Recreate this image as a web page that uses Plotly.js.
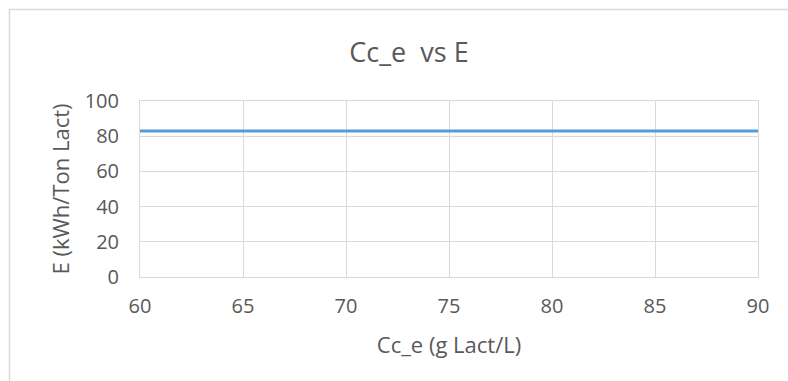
<!DOCTYPE html>
<html>
<head>
<meta charset="utf-8">
<script src="https://cdn.plot.ly/plotly-3.0.1.min.js"></script>
<style>
  html, body { margin: 0; padding: 0; background: #ffffff; }
  #chart { width: 788px; height: 381px; }
</style>
</head>
<body>
<div id="chart"></div>
<script>
// Concentration Cc_e (g Lact/L) against specific energy E (kWh/Ton Lact)
const ccE = [60, 65, 70, 75, 80, 85, 90];
const energy = [83, 83, 83, 83, 83, 83, 83];

const xTicks = [60, 65, 70, 75, 80, 85, 90];
const yTicks = [0, 20, 40, 60, 80, 100];

const W = 788, H = 381;
const margin = { l: 140, r: 30, t: 101, b: 104 };
const plotW = W - margin.l - margin.r;
const plotH = H - margin.t - margin.b;

// chart frame, given in pixels and converted to paper units
const frameLeft = 9.5, frameTop = 9.5;
const fx0 = (frameLeft - margin.l) / plotW;
const fx1 = (W + 5 - margin.l) / plotW;
const fy1 = (H - margin.b - frameTop) / plotH;
const fy0 = -(margin.b + 5) / plotH;

const textColor = '#595959';
const gridColor = '#d9d9d9';
const fontFamily = 'Open Sans, Lato, sans-serif';

const trace = {
  x: ccE,
  y: energy,
  type: 'scatter',
  mode: 'lines',
  line: { color: '#5B9BD5', width: 3 },
  hoverinfo: 'x+y'
};

const layout = {
  width: W,
  height: H,
  margin: margin,
  paper_bgcolor: '#ffffff',
  plot_bgcolor: '#ffffff',
  showlegend: false,
  font: { family: fontFamily, color: textColor, size: 14 },
  title: {
    text: 'Cc_e  vs E',
    font: { family: fontFamily, size: 27, color: textColor },
    x: 409 / W,
    xref: 'container',
    xanchor: 'center',
    y: 1 - 53 / H,
    yref: 'container',
    yanchor: 'middle'
  },
  xaxis: {
    range: [60, 90],
    tickvals: xTicks,
    ticktext: xTicks.map(String),
    showgrid: true,
    gridcolor: gridColor,
    gridwidth: 1,
    zeroline: false,
    showline: true,
    linecolor: gridColor,
    linewidth: 1,
    mirror: true,
    ticks: '',
    ticklabelstandoff: 11,
    tickfont: { size: 20, color: textColor, family: fontFamily },
    title: {
      text: 'Cc_e (g Lact/L)',
      font: { size: 22, color: textColor, family: fontFamily },
      standoff: 19
    }
  },
  yaxis: {
    range: [0, 100],
    tickvals: yTicks,
    ticktext: yTicks.map(String),
    showgrid: true,
    gridcolor: gridColor,
    gridwidth: 1,
    zeroline: false,
    showline: true,
    linecolor: gridColor,
    linewidth: 1,
    mirror: true,
    ticks: '',
    ticklabelstandoff: 16,
    tickfont: { size: 20, color: textColor, family: fontFamily },
    title: {
      text: 'E (kWh/Ton Lact)',
      font: { size: 22, color: textColor, family: fontFamily },
      standoff: 8
    }
  },
  shapes: [{
    type: 'rect',
    xref: 'paper', yref: 'paper',
    x0: fx0, x1: fx1, y0: fy0, y1: fy1,
    line: { color: '#d9d9d9', width: 1.5 },
    fillcolor: 'rgba(0,0,0,0)',
    layer: 'below'
  }]
};

Plotly.newPlot('chart', [trace], layout, { displayModeBar: false, staticPlot: true });
</script>
</body>
</html>
